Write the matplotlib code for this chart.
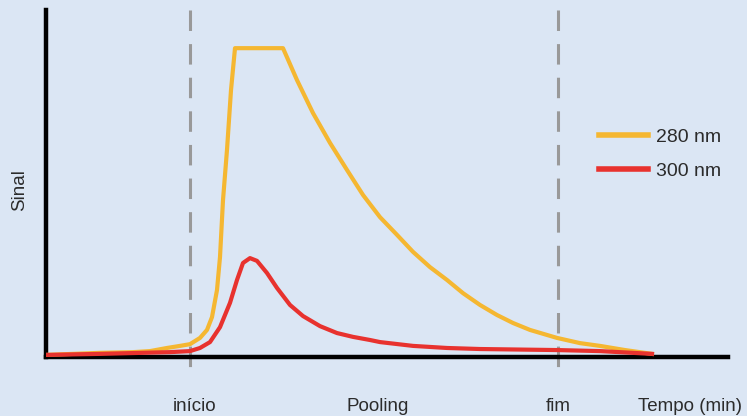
import matplotlib.pyplot as plt

# Time (min) and signal (arbitrary units)
t_280 = [0, 5.4, 8.7, 10.4, 12.1, 13.4, 14.4, 15.4, 16.1, 16.6, 17.1, 17.4,
         17.7, 18.1, 18.5, 18.9, 23.7, 25.1, 26.7, 28.4, 30.1, 31.7, 33.4,
         35.1, 36.7, 38.4, 40.1, 41.7, 43.4, 45.1, 46.7, 48.4, 51.1, 53.4,
         55.4, 57.9, 60.6]
s_280 = [0.6, 1.2, 1.4, 1.7, 2.6, 3.2, 3.7, 5.5, 7.8, 11.5, 19.3, 28.8,
         45.2, 59.7, 76.9, 89.0, 89.0, 79.8, 70.3, 61.7, 53.9, 46.7, 40.3,
         35.2, 30.3, 25.9, 22.2, 18.4, 15.0, 12.1, 9.8, 7.8, 5.5, 4.0,
         3.2, 2.0, 0.9]

t_300 = [0, 5.4, 12.4, 14.4, 15.4, 16.4, 17.4, 18.4, 19.1, 19.7, 20.4, 21.1,
         22.1, 23.1, 24.4, 25.7, 27.4, 29.1, 30.7, 32.4, 33.4, 36.7, 40.1,
         43.4, 51.1, 55.4, 60.6]
s_300 = [0.6, 0.9, 1.4, 1.7, 2.6, 4.3, 8.6, 15.6, 22.2, 27.1, 28.5, 27.7,
         24.2, 19.9, 15.0, 11.8, 8.9, 6.9, 5.8, 4.9, 4.3, 3.2, 2.6,
         2.3, 2.0, 1.7, 0.9]

marks = [14.4, 51.2]
tick_pos = [14.9, 33.2, 51.2, 64.4]
tick_labels = ['início', 'Pooling', 'fim', 'Tempo (min)']

bg = '#dbe6f4'
yellow = '#f5b731'
red = '#e8322e'
txt = '#2b2b2b'

plt.rcParams['font.family'] = ['Liberation Sans', 'DejaVu Sans']

fig = plt.figure(figsize=(7.47, 4.16), dpi=100, facecolor=bg)
ax = fig.add_axes([46/747, 59/416, 682/747, 347/416])
ax.set_facecolor(bg)

# dashed markers, drawn top-down so the dash pattern starts at the top
for m in marks:
    ax.plot([m, m], [1.0, -0.052], transform=ax.get_xaxis_transform(),
            color='#999999', lw=2.2, dashes=(6.7, 4.3), clip_on=False, zorder=1)

ax.plot(t_280, s_280, color=yellow, lw=3, label='280 nm', zorder=3,
        solid_joinstyle='round')
ax.plot(t_300, s_300, color=red, lw=3, label='300 nm', zorder=4,
        solid_joinstyle='round')

ax.set_xlim(0, 68.2)
ax.set_ylim(0, 100)

for side in ['top', 'right']:
    ax.spines[side].set_visible(False)
for side in ['left', 'bottom']:
    ax.spines[side].set_linewidth(3.2)
    ax.spines[side].set_color('black')

ax.set_yticks([])
ax.set_xticks(tick_pos)
ax.set_xticklabels(tick_labels, fontsize=13.5, color=txt)
ax.tick_params(axis='x', length=0, pad=29.5)

fig.text(20/747, 1 - 190/416, 'Sinal', rotation=90, ha='center', va='center',
         fontsize=13.5, color=txt)

leg = ax.legend(loc='upper left', bbox_to_anchor=(599/747, 1 - 128/416),
                bbox_transform=fig.transFigure, frameon=False, fontsize=14,
                handlelength=2.5, handletextpad=0.45, labelspacing=0.85,
                borderpad=0, borderaxespad=0)
for t in leg.get_texts():
    t.set_color(txt)
for h in leg.get_lines():
    h.set_linewidth(4)

fig.savefig('out.png', dpi=100, facecolor=bg)
